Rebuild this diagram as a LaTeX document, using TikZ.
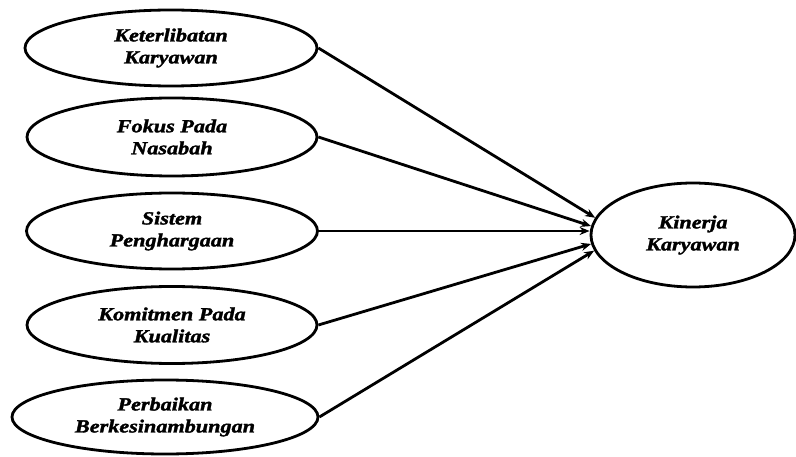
\documentclass[tikz,border=0pt]{standalone}
\usepackage{fontspec}
\newfontfamily\lblfont{Liberation Serif}[FakeStretch=1.2,FakeBold=1.8]
\usetikzlibrary{shapes.geometric,arrows.meta}
\begin{document}
\begin{tikzpicture}[x=1pt,y=-1pt,
  var/.style={ellipse,draw=black,line width=2.8pt,inner sep=0pt,align=center,
    font=\lblfont\bfseries\itshape\fontsize{18.5}{22}\selectfont},
  link/.style={line width=2.8pt,-{Stealth[length=10pt,width=8pt]}}]
\useasboundingbox (0,0) rectangle (796,457);
\node[var,minimum width=292pt,minimum height=76pt] (a) at (171,48) {Keterlibatan\\Karyawan};
\node[var,minimum width=290pt,minimum height=78pt] (b) at (172,137) {Fokus Pada\\Nasabah};
\node[var,minimum width=291pt,minimum height=76pt] (c) at (172,231) {Sistem\\Penghargaan};
\node[var,minimum width=290pt,minimum height=77pt] (d) at (172,325) {Komitmen Pada\\Kualitas};
\node[var,minimum width=306pt,minimum height=74pt] (e) at (165,417) {Perbaikan\\Berkesinambungan};
\node[var,minimum width=204pt,minimum height=104pt] (k) at (693,235) {Kinerja\\Karyawan};
\draw[link] (a.east) -- (k.170.5);
\draw[link] (b.east) -- (k.175);
\draw[link] (c.east) -- (c.east -| k.west);
\draw[link] (d.east) -- (k.185);
\draw[link] (e.east) -- (k.189.5);
\end{tikzpicture}
\end{document}
